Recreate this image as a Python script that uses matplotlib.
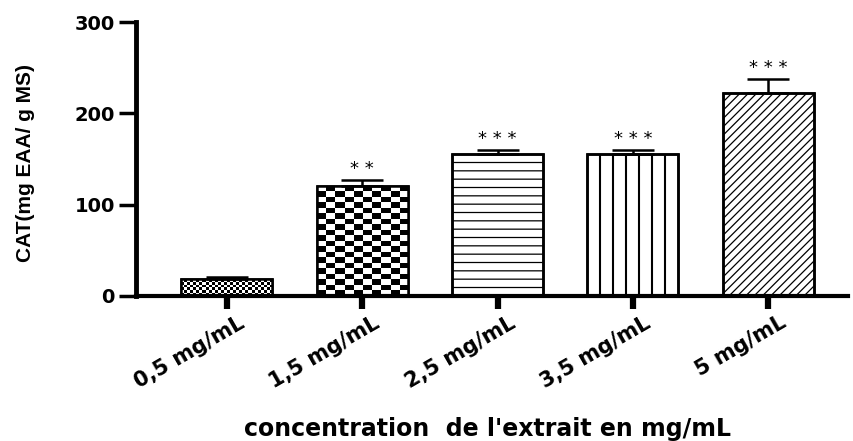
import numpy as np
import matplotlib
matplotlib.use('Agg')
import matplotlib.pyplot as plt
from matplotlib.transforms import ScaledTranslation

## Data
categories = ['0,5 mg/mL', '1,5 mg/mL', '2,5 mg/mL', '3,5 mg/mL', '5 mg/mL']
values = [18, 120, 155, 155, 222]
errors = [3, 7, 5, 5, 16]
stars = ['', '* *', '* * *', '* * *', '* * *']

plt.rcParams['font.family'] = ['DejaVu Sans']
plt.rcParams['hatch.linewidth'] = 0.9

fig = plt.figure(figsize=(8.54, 4.41), dpi=100)
ax = fig.add_axes([0.159, 0.329, 0.834, 0.621])

x = np.arange(len(categories))
width = 0.673
bars = ax.bar(x, values, width=width, color='white', edgecolor='black',
              linewidth=1.8, zorder=2)


## Patterned fills clipped to each bar
def checker_fill(bar, nx, ny):
    img = (np.add.outer(np.arange(ny), np.arange(nx)) % 2).astype(float)
    x0, y0 = bar.get_x(), bar.get_y()
    im = ax.imshow(img, cmap='gray_r', vmin=0, vmax=1, interpolation='nearest',
                   extent=[x0, x0 + bar.get_width(), y0, y0 + bar.get_height()],
                   aspect='auto', zorder=2.5)
    im.set_clip_path(bar)


checker_fill(bars[0], 30, 6)
checker_fill(bars[1], 10, 20)

b = bars[3]
xs = b.get_x() + b.get_width() * np.arange(1, 7) / 7
ax.vlines(xs, 0, b.get_height(), color='black', linewidth=1.5, zorder=2.5)

bars[2].set_hatch('--')
bars[4].set_hatch('////')

# edges on top of the textures
ax.bar(x, values, width=width, color='none', edgecolor='black',
       linewidth=1.8, zorder=3)

## Upper error bars only
ax.errorbar(x, values, yerr=[np.zeros(len(values)), errors], fmt='none',
            ecolor='black', elinewidth=1.8, capsize=15, capthick=1.8, zorder=4)

for xi, v, e, s in zip(x, values, errors, stars):
    if s:
        ax.text(xi, v + e + 2, s, ha='center', va='bottom', fontsize=13)

## Axes styling
ax.set_xlim(-0.673, len(categories) - 1 + 0.59)
ax.set_ylim(0, 300)
ax.set_yticks([0, 100, 200, 300])
for side in ['top', 'right']:
    ax.spines[side].set_visible(False)
ax.spines['left'].set_linewidth(3.5)
ax.spines['bottom'].set_linewidth(3)
ax.tick_params(axis='y', length=12, width=2.5, labelsize=14, pad=3)
ax.tick_params(axis='x', length=9, width=4.5, labelsize=15, pad=3)
ax.set_xticks(x)
ax.set_xticklabels(categories, rotation=30, ha='right', va='top',
                   rotation_mode='anchor', fontweight='bold')
offset = ScaledTranslation(0.11, 0, fig.dpi_scale_trans)
for lab in ax.get_xticklabels():
    lab.set_transform(lab.get_transform() + offset)
for lab in ax.get_yticklabels():
    lab.set_fontweight('bold')

ax.set_ylabel('CAT(mg EAA/ g MS)', fontsize=15, fontweight='bold',
              family='Liberation Sans')
ax.yaxis.set_label_coords(-0.142, 0.485)
fig.text(0.571, 0.027, "concentration  de l'extrait en mg/mL", ha='center',
         va='center', fontsize=17, fontweight='bold')

plt.savefig('out.png', dpi=100)
